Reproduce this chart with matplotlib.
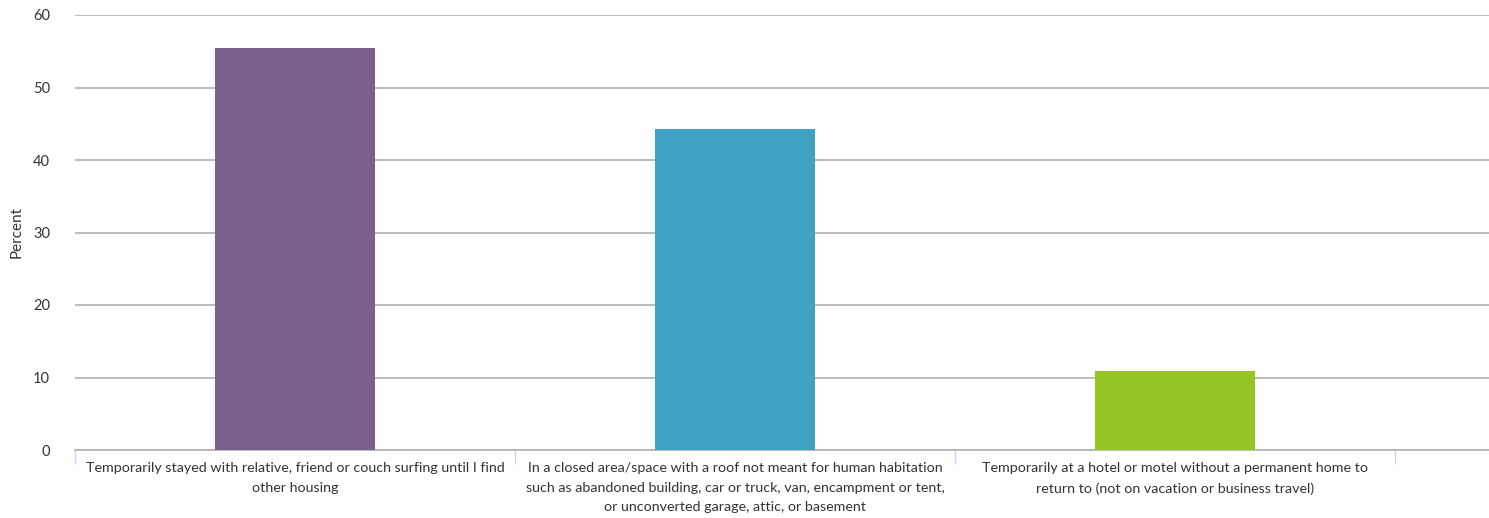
import matplotlib
matplotlib.use("Agg")
import matplotlib.pyplot as plt
import numpy as np

categories = [
    "Temporarily stayed with relative, friend or couch surfing until I find\nother housing",
    "In a closed area/space with a roof not meant for human habitation\nsuch as abandoned building, car or truck, van, encampment or tent,\nor unconverted garage, attic, or basement",
    "Temporarily at a hotel or motel without a permanent home to\nreturn to (not on vacation or business travel)",
]
values = [55.5, 44.3, 10.9]
colors = ["#7b608e", "#40a2c2", "#93c625"]
yticks = [0, 10, 20, 30, 40, 50, 60]

plt.rcParams['font.family'] = ['Lato', 'DejaVu Sans']

fig = plt.figure(figsize=(14.89, 5.18), dpi=100)
ax = fig.add_axes([75/1489, 1-450/518, 1-75/1489, 435/518])

x = np.arange(len(categories))
ax.bar(x, values, width=0.364, color=colors, zorder=3)

ax.set_ylim(0, 60)
ax.set_xlim(-0.5, -0.5 + 1414/440)
ax.set_yticks(yticks)
ax.tick_params(axis='y', length=0, pad=18, labelsize=10.5, labelcolor='#333333')
ax.grid(axis='y', color='#b0b0b0', linewidth=1.2, zorder=0)

# category boundary ticks
ax.set_xticks([-0.5, 0.5, 1.5, 2.5], minor=False)
ax.set_xticklabels([])
ax.tick_params(axis='x', which='major', length=10, color='#ccd6eb', width=1)
ax.set_xticks(x, minor=True)
ax.set_xticklabels(categories, minor=True, fontsize=10.25, color='#333333', linespacing=1.72)
ax.tick_params(axis='x', which='minor', length=0, pad=9)

for s in ['top', 'right', 'left']:
    ax.spines[s].set_visible(False)
ax.spines['bottom'].set_color('#b0b0b0')
ax.spines['bottom'].set_linewidth(1.2)

ax.set_ylabel("Percent", fontsize=11, color='#333333')
ax.yaxis.set_label_coords(-0.036, 0.5)

fig.savefig("out.png", dpi=100)
